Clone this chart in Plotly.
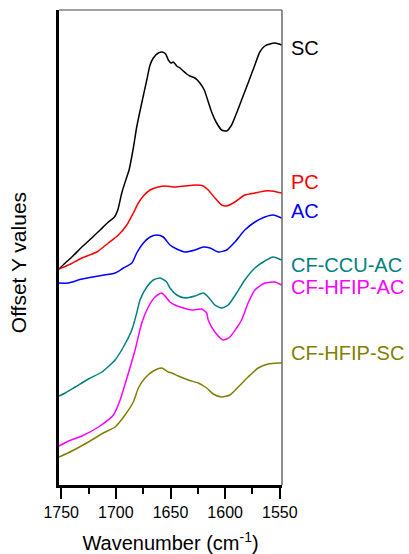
import plotly.graph_objects as go

# ---- data (wavenumber in cm^-1, offset intensity in arbitrary units) ----
sc_x = [1752, 1746.3, 1740.2, 1731.1, 1722.0, 1714.4, 1706.8, 1701.3, 1698.2, 1694.6, 1690.9, 1687.9,
        1684.0, 1680.9, 1676.3, 1671.7, 1668.7, 1665.7, 1661.1, 1657.5, 1654.4, 1652.0, 1649.5, 1647.4,
        1644.3, 1641.3, 1638.3, 1635.2, 1632.2, 1627.6, 1623.1, 1619.1, 1616.0, 1612.4, 1607.8, 1603.2,
        1598.7, 1594.1, 1589.5, 1585.0, 1579.0, 1572.8, 1568.3, 1563.7, 1559.1, 1554.6, 1550.9, 1548.4]
sc_y = [2.16, 2.22, 2.28, 2.38, 2.47, 2.55, 2.63, 2.68, 2.75, 2.92, 3.05, 3.15,
        3.37, 3.58, 3.82, 4.05, 4.20, 4.27, 4.32, 4.33, 4.31, 4.25, 4.22, 4.23,
        4.19, 4.17, 4.14, 4.11, 4.09, 4.07, 4.02, 3.95, 3.85, 3.73, 3.62, 3.55,
        3.54, 3.60, 3.72, 3.85, 4.02, 4.20, 4.33, 4.39, 4.41, 4.42, 4.41, 4.40]

pc_x = [1752, 1743.3, 1731.1, 1717.4, 1706.8, 1697.7, 1690.0, 1684.0, 1679.4, 1674.8, 1668.7, 1661.1,
        1655.0, 1645.9, 1636.8, 1627.6, 1620.0, 1615.5, 1609.4, 1603.2, 1598.7, 1591.1, 1582.0, 1572.8,
        1563.7, 1557.6, 1548.4]
pc_y = [2.16, 2.20, 2.27, 2.33, 2.42, 2.50, 2.60, 2.72, 2.82, 2.89, 2.95, 2.98,
        2.99, 2.98, 2.99, 3.00, 2.99, 2.95, 2.87, 2.80, 2.79, 2.83, 2.90, 2.92,
        2.94, 2.94, 2.92]

ac_x = [1752, 1743.3, 1731.1, 1715.9, 1700.7, 1693.1, 1685.4, 1680.9, 1674.8, 1668.7, 1662.6, 1656.6,
        1650.5, 1644.3, 1636.8, 1627.6, 1620.0, 1613.9, 1606.3, 1598.7, 1591.1, 1582.0, 1572.8, 1563.7,
        1556.1, 1548.4]
ac_y = [2.02, 2.02, 2.06, 2.09, 2.12, 2.17, 2.22, 2.32, 2.42, 2.48, 2.50, 2.48,
        2.40, 2.36, 2.33, 2.35, 2.38, 2.37, 2.33, 2.35, 2.43, 2.55, 2.63, 2.68,
        2.70, 2.67]

ccu_x = [1752, 1746.3, 1737.2, 1725.1, 1712.8, 1700.7, 1693.1, 1685.4, 1680.9, 1677.9, 1671.7, 1665.7,
         1659.6, 1653.5, 1650.5, 1644.3, 1636.8, 1627.6, 1620.0, 1615.5, 1609.4, 1603.2, 1597.2, 1589.5,
         1582.0, 1572.8, 1563.7, 1556.1, 1548.4]
ccu_y = [0.89, 0.92, 0.98, 1.06, 1.13, 1.25, 1.38, 1.55, 1.72, 1.85, 1.98, 2.05,
         2.07, 2.03, 1.97, 1.90, 1.87, 1.89, 1.92, 1.88, 1.80, 1.77, 1.80, 1.92,
         2.05, 2.17, 2.24, 2.28, 2.25]

hac_x = [1752, 1743.3, 1731.1, 1715.9, 1702.2, 1696.1, 1688.5, 1682.4, 1676.3, 1670.3, 1664.2, 1658.0,
         1653.5, 1650.5, 1645.9, 1638.3, 1630.6, 1621.5, 1616.9, 1615.5, 1609.4, 1601.8, 1595.7, 1589.5,
         1585.0, 1579.0, 1572.8, 1563.7, 1554.6, 1548.4]
hac_y = [0.39, 0.44, 0.49, 0.58, 0.70, 0.85, 1.12, 1.35, 1.62, 1.78, 1.88, 1.92,
         1.87, 1.83, 1.80, 1.77, 1.75, 1.76, 1.72, 1.65, 1.53, 1.45, 1.48, 1.57,
         1.65, 1.82, 1.95, 2.02, 2.03, 2.00]

hsc_x = [1752, 1740.2, 1725.1, 1711.4, 1700.7, 1691.6, 1684.0, 1679.4, 1673.3, 1665.7, 1658.0, 1652.0,
         1648.9, 1642.9, 1633.7, 1624.6, 1616.9, 1610.9, 1603.2, 1595.7, 1588.1, 1579.0, 1569.8, 1560.7,
         1551.5, 1548.4]
hsc_y = [0.28, 0.34, 0.43, 0.52, 0.58, 0.70, 0.83, 0.97, 1.07, 1.14, 1.17, 1.13,
         1.12, 1.09, 1.05, 1.02, 0.97, 0.91, 0.88, 0.90, 0.98, 1.08, 1.17, 1.21,
         1.22, 1.22]

names = ["SC", "PC", "AC", "CF-CCU-AC", "CF-HFIP-AC", "CF-HFIP-SC"]
xs = [sc_x, pc_x, ac_x, ccu_x, hac_x, hsc_x]
ys = [sc_y, pc_y, ac_y, ccu_y, hac_y, hsc_y]
colors = ["#000000", "#FF0000", "#0000FF", "#008080", "#FF00FF", "#808000"]
label_y = [4.37, 3.03, 2.74, 2.20, 1.98, 1.32]

x_ticks = [1750, 1700, 1650, 1600, 1550]

FONT = "Arial, Liberation Sans, sans-serif"

fig = go.Figure()
for n, x, y, c in zip(names, xs, ys, colors):
    fig.add_trace(go.Scatter(x=x, y=y, mode="lines", name=n,
                             line=dict(color=c, width=1.5, shape="spline", smoothing=0.6),
                             showlegend=False, hoverinfo="skip"))

for n, ly, c in zip(names, label_y, colors):
    fig.add_annotation(text=n, xref="paper", yref="y", x=1.03, y=ly,
                       xanchor="left", yanchor="middle", showarrow=False,
                       font=dict(family=FONT, size=20, color=c))

fig.add_annotation(text="Offset Y values", xref="paper", yref="paper", x=-0.184, y=0.469,
                   textangle=-90, xanchor="center", yanchor="middle", showarrow=False,
                   font=dict(family=FONT, size=21, color="black"))

# thin top/right frame
fig.add_shape(type="line", xref="paper", yref="paper", x0=0, x1=1, y0=1, y1=1,
              line=dict(color="#444444", width=1.2))
fig.add_shape(type="line", xref="paper", yref="paper", x0=1, x1=1, y0=0, y1=1,
              line=dict(color="#444444", width=1.2))

fig.update_layout(
    width=409, height=554,
    margin=dict(l=59, r=127, t=10, b=69),
    paper_bgcolor="white", plot_bgcolor="white",
    font=dict(family=FONT, color="black"),
    xaxis=dict(range=[1752, 1548], tickvals=x_ticks, ticktext=[str(v) for v in x_ticks],
               automargin=False,
               ticks="outside", ticklen=11, tickwidth=2, tickcolor="black",
               minor=dict(dtick=25, tick0=1750, ticks="outside", ticklen=6, tickwidth=2, tickcolor="black"),
               showline=True, linecolor="black", linewidth=2.5, showgrid=False, zeroline=False,
               tickfont=dict(family=FONT, size=16, color="black"),
               title=dict(text="Wavenumber (cm<sup>-1</sup>)", standoff=20,
                          font=dict(family=FONT, size=20, color="black"))),
    yaxis=dict(range=[0, 4.75], showticklabels=False, ticks="", showline=True, automargin=False,
               linecolor="black", linewidth=2.5, showgrid=False, zeroline=False),
)

fig.write_html("out.html")
